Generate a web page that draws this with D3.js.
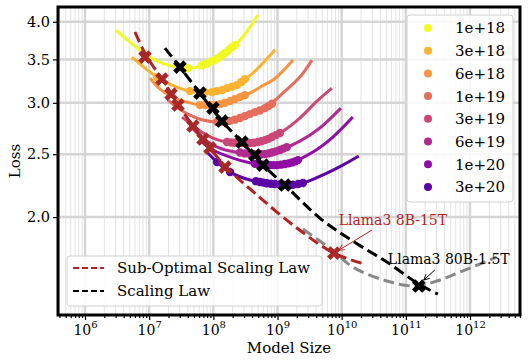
<!DOCTYPE html>
<html>
<head>
<meta charset="utf-8">
<script src="https://cdn.jsdelivr.net/npm/d3@7"></script>
<style>
  body { margin: 0; background: #fff; }
  text { font-family: "DejaVu Serif", serif; }
</style>
</head>
<body>
<svg></svg>
<script>
// compute budgets (legend) and their iso-FLOP curves: [model size, loss]
const budgets = ['1e+18', '3e+18', '6e+18', '1e+19', '3e+19', '6e+19', '1e+20', '3e+20']
const budgetColors = ['#f0f921', '#fdb32f', '#f89540', '#e66c5c', '#cc4778', '#b12a90', '#8f0da4', '#5c01a6']

const line1e18 = [[3.04e6, 3.884], [6.0e6, 3.669], [1.23e7, 3.491], [2.27e7, 3.417], [4.02e7, 3.393], [7.40e7, 3.429], [1.36e8, 3.554], [2.60e8, 3.748], [4.95e8, 4.097]]
const line3e18 = [[5.4e6, 3.528], [8.6e6, 3.393], [1.32e7, 3.287], [2.27e7, 3.195], [4.32e7, 3.127], [8.85e7, 3.105], [1.52e8, 3.150], [2.60e8, 3.217], [4.45e8, 3.357], [9.11e8, 3.617]]
const line6e18 = [[1.03e7, 3.275], [1.47e7, 3.150], [2.35e7, 3.061], [3.88e7, 3.007], [6.18e7, 2.976], [1.06e8, 2.976], [1.63e8, 3.007], [2.60e8, 3.061], [3.72e8, 3.105], [5.72e8, 3.184], [8.48e8, 3.252], [1.21e9, 3.357], [1.74e9, 3.491]]
const line1e19 = [[1.96e7, 3.029], [2.81e7, 2.944], [4.32e7, 2.872], [6.89e7, 2.822], [1.14e8, 2.802], [1.82e8, 2.812], [2.60e8, 2.842], [4.45e8, 2.903], [6.84e8, 2.955], [1.21e9, 3.105], [2.23e9, 3.287], [3.44e9, 3.491]]
const line3e19 = [[3.25e7, 2.852], [4.65e7, 2.773], [6.18e7, 2.715], [9.86e7, 2.647], [1.63e8, 2.610], [3.72e8, 2.601], [6.37e8, 2.628], [1.09e9, 2.695], [2.23e9, 2.842], [4.11e9, 3.018], [7.03e9, 3.161]]
const line6e19 = [[4.65e7, 2.744], [6.89e7, 2.647], [1.06e8, 2.573], [1.82e8, 2.528], [3.72e8, 2.501], [6.37e8, 2.501], [1.09e9, 2.537], [2.23e9, 2.619], [4.57e9, 2.744], [9.72e9, 2.944]]
const line1e20 = [[6.18e7, 2.628], [9.86e7, 2.537], [2.02e8, 2.466], [4.78e8, 2.414], [9.11e8, 2.405], [1.56e9, 2.422], [3.56e9, 2.519], [7.29e9, 2.657], [1.49e10, 2.852]]
const line3e20 = [[7.95e7, 2.519], [1.14e8, 2.431], [1.82e8, 2.346], [3.72e8, 2.281], [7.62e8, 2.249], [1.40e9, 2.241], [2.49e9, 2.257], [5.88e9, 2.338], [1.04e10, 2.405], [1.85e10, 2.484]]

// measured runs sitting on each curve
const dots1e18 = [[4.02e7, 3.393], [6.64e7, 3.429], [8.0e7, 3.45], [9.51e7, 3.479], [1.07e8, 3.497], [1.18e8, 3.516], [1.35e8, 3.55], [1.52e8, 3.579], [1.72e8, 3.615], [1.95e8, 3.656], [2.17e8, 3.683]]
const dots3e18 = [[1.32e7, 3.287], [4.32e7, 3.127], [7.40e7, 3.116], [9.5e7, 3.116], [1.14e8, 3.127], [1.38e8, 3.14], [1.63e8, 3.161], [1.95e8, 3.177], [2.33e8, 3.195], [2.7e8, 3.228], [3.10e8, 3.263]]
const dots6e18 = [[6.18e7, 2.976], [7.4e7, 2.976], [8.85e7, 2.976], [1.07e8, 2.978], [1.27e8, 2.986], [1.52e8, 3.0], [1.82e8, 3.018], [2.17e8, 3.04], [2.60e8, 3.061], [3.10e8, 3.083]]
const dots1e19 = [[1.14e8, 2.802], [1.33e8, 2.804], [1.52e8, 2.807], [1.82e8, 2.814], [2.17e8, 2.826], [2.6e8, 2.842], [3.10e8, 2.862], [3.7e8, 2.882], [4.45e8, 2.903], [5.3e8, 2.92], [6.37e8, 2.944], [7.2e8, 2.965], [8.19e8, 2.99]]
const dots3e19 = [[1.63e8, 2.610], [1.9e8, 2.606], [2.17e8, 2.604], [2.5e8, 2.602], [2.79e8, 2.601], [3.25e8, 2.601], [3.72e8, 2.601], [4.3e8, 2.604], [4.95e8, 2.610], [5.6e8, 2.618], [6.37e8, 2.628], [7.2e8, 2.64], [8.19e8, 2.657], [9.4e8, 2.675], [1.09e9, 2.695]]
const dots6e19 = [[2.60e8, 2.515], [3.1e8, 2.507], [3.72e8, 2.501], [4.3e8, 2.5], [4.95e8, 2.500], [5.6e8, 2.5], [6.37e8, 2.501], [7.2e8, 2.507], [8.19e8, 2.515], [9.4e8, 2.525], [1.09e9, 2.537], [1.23e9, 2.55], [1.40e9, 2.564]]
const dots1e20 = [[4.45e8, 2.416], [5.2e8, 2.411], [5.93e8, 2.408], [6.7e8, 2.406], [7.62e8, 2.405], [8.6e8, 2.405], [9.79e8, 2.405], [1.13e9, 2.409], [1.30e9, 2.414], [1.48e9, 2.42], [1.68e9, 2.427], [1.88e9, 2.437], [2.08e9, 2.448]]
const dots3e20 = [[1.14e8, 2.431], [1.82e8, 2.346], [4.6e8, 2.272], [5.32e8, 2.265], [6.0e8, 2.26], [6.84e8, 2.255], [7.9e8, 2.251], [9.11e8, 2.249], [1.09e9, 2.245], [1.3e9, 2.242], [1.52e9, 2.242], [1.74e9, 2.243], [2.1e9, 2.249], [2.49e9, 2.257]]

const isoLines = [line1e18, line3e18, line6e18, line1e19, line3e19, line6e19, line1e20, line3e20]
const isoDots = [dots1e18, dots3e18, dots6e18, dots1e19, dots3e19, dots6e19, dots1e20, dots3e20]

// optimal (black) and sub-optimal (red) points per budget
const optN = [3.02e7, 6.18e7, 9.86e7, 1.36e8, 2.79e8, 4.45e8, 5.93e8, 1.30e9]
const optLoss = [3.405, 3.105, 2.944, 2.812, 2.610, 2.492, 2.405, 2.241]
const subN = [8.6e6, 1.58e7, 2.19e7, 2.81e7, 4.81e7, 6.89e7, 8.85e7, 1.52e8]
const subLoss = [3.528, 3.263, 3.094, 2.976, 2.763, 2.638, 2.555, 2.388]

// fitted laws
const lawN = [1.76e7, 3.02e7, 6.18e7, 1.36e8, 2.79e8, 5.93e8, 1.30e9, 4.57e9, 1.49e10, 5.06e10, 1.59e11, 3.15e11]
const lawLoss = [3.643, 3.405, 3.105, 2.812, 2.610, 2.405, 2.241, 1.993, 1.837, 1.705, 1.577, 1.522]
const subLawN = [6.0e6, 8.91e6, 1.58e7, 2.81e7, 4.81e7, 8.85e7, 1.52e8, 4.78e8, 2.0e9, 7.56e9, 2.30e10]
const subLawLoss = [3.857, 3.554, 3.263, 2.986, 2.763, 2.555, 2.397, 2.163, 1.924, 1.760, 1.693]

// iso-FLOP of the Llama3 budget (grey)
const llamaN = [2.49e9, 4.57e9, 7.84e9, 1.49e10, 5.06e10, 1.38e11, 3.04e11, 6.93e11, 2.61e12]
const llamaLoss = [1.917, 1.837, 1.766, 1.675, 1.594, 1.566, 1.594, 1.645, 1.735]

const llama8B = [7.56e9, 1.760]
const llama80B = [1.59e11, 1.566]

const xMajor = [1e6, 1e7, 1e8, 1e9, 1e10, 1e11, 1e12]
const yTicks = [2.0, 2.5, 3.0, 3.5, 4.0]

const width = 529
const height = 364
const pLeft = 58, pRight = 520, pTop = 7, pBottom = 315
const red = '#b22222'

const svg = d3.select('svg')
  .attr('width', width)
  .attr('height', height)

const x = d3.scaleLog().domain([10 ** 5.579, 10 ** 12.779]).range([pLeft, pRight])
const y = d3.scaleLog().domain([1.413, 4.215]).range([pBottom, pTop])

const xMinor = []
for (let e = 5; e <= 12; e++) {
  for (let k = 2; k <= 9; k++) {
    const v = k * 10 ** e
    if (v > x.domain()[0] && v < x.domain()[1]) xMinor.push(v)
  }
}

const defs = svg.append('defs')
defs.append('clipPath').attr('id', 'clip')
  .append('rect').attr('x', pLeft).attr('y', pTop).attr('width', pRight - pLeft).attr('height', pBottom - pTop)

// grid
const grid = svg.append('g')
grid.selectAll('.minor').data(xMinor).enter().append('line')
  .attr('x1', d => x(d)).attr('x2', d => x(d)).attr('y1', pTop).attr('y2', pBottom)
  .attr('stroke', '#e3e3e3').attr('stroke-width', 1)
grid.selectAll('.major').data(xMajor).enter().append('line')
  .attr('x1', d => x(d)).attr('x2', d => x(d)).attr('y1', pTop).attr('y2', pBottom)
  .attr('stroke', '#d5d5d5').attr('stroke-width', 2.5)
grid.selectAll('.hy').data(yTicks).enter().append('line')
  .attr('x1', pLeft).attr('x2', pRight).attr('y1', d => y(d)).attr('y2', d => y(d))
  .attr('stroke', '#d5d5d5').attr('stroke-width', 2.5)

const plot = svg.append('g').attr('clip-path', 'url(#clip)')

const line = d3.line()
  .x(d => x(d[0]))
  .y(d => y(d[1]))
  .curve(d3.curveCatmullRom)

const zip = (a, b) => a.map((v, i) => [v, b[i]])

// iso-FLOP curves
plot.selectAll('.iso').data(isoLines).enter().append('path')
  .attr('d', line)
  .attr('fill', 'none')
  .attr('stroke', (d, i) => budgetColors[i])
  .attr('stroke-width', 3)

isoDots.forEach((pts, i) => {
  plot.append('g').selectAll('circle').data(pts).enter().append('circle')
    .attr('cx', d => x(d[0]))
    .attr('cy', d => y(d[1]))
    .attr('r', 4.2)
    .attr('fill', budgetColors[i])
})

// laws
plot.append('path').attr('d', line(zip(llamaN, llamaLoss)))
  .attr('fill', 'none').attr('stroke', '#888').attr('stroke-width', 3).attr('stroke-dasharray', '11,5')
plot.append('path').attr('d', line(zip(subLawN, subLawLoss)))
  .attr('fill', 'none').attr('stroke', red).attr('stroke-width', 3).attr('stroke-dasharray', '11,5')
plot.append('path').attr('d', line(zip(lawN, lawLoss)))
  .attr('fill', 'none').attr('stroke', '#000').attr('stroke-width', 3).attr('stroke-dasharray', '11,5')

const xMark = d3.symbol(d3.symbolCross).size(115)

plot.selectAll('.sub').data(zip(subN, subLoss).concat([llama8B])).enter().append('path')
  .attr('d', xMark)
  .attr('transform', d => `translate(${x(d[0])},${y(d[1])}) rotate(45)`)
  .attr('fill', '#a82828')

plot.selectAll('.opt').data(zip(optN, optLoss).concat([llama80B])).enter().append('path')
  .attr('d', xMark)
  .attr('transform', d => `translate(${x(d[0])},${y(d[1])}) rotate(45)`)
  .attr('fill', '#000')

// annotations
function arrowHead(id, color) {
  defs.append('marker').attr('id', id)
    .attr('viewBox', '0 0 10 10').attr('refX', 9).attr('refY', 5)
    .attr('markerWidth', 7).attr('markerHeight', 7).attr('orient', 'auto')
    .attr('markerUnits', 'userSpaceOnUse')
    .append('path').attr('d', 'M1,1 L9,5 L1,9')
    .attr('fill', 'none').attr('stroke', color).attr('stroke-width', 1.3)
}
arrowHead('arrRed', red)
arrowHead('arrBlack', '#000')

const p8 = [x(llama8B[0]), y(llama8B[1])]
svg.append('line')
  .attr('x1', p8[0] + 38).attr('y1', p8[1] - 23)
  .attr('x2', p8[0] + 5).attr('y2', p8[1] - 3)
  .attr('stroke', red).attr('stroke-width', 1)
  .attr('marker-end', 'url(#arrRed)')
svg.append('text')
  .attr('x', p8[0] + 59).attr('y', p8[1] - 28)
  .attr('text-anchor', 'middle')
  .attr('font-size', 14)
  .attr('fill', red)
  .text('Llama3 8B-15T')

const p80 = [x(llama80B[0]), y(llama80B[1])]
svg.append('line')
  .attr('x1', p80[0] + 16).attr('y1', p80[1] - 16)
  .attr('x2', p80[0] + 5).attr('y2', p80[1] - 6)
  .attr('stroke', '#000').attr('stroke-width', 1)
  .attr('marker-end', 'url(#arrBlack)')
svg.append('text')
  .attr('x', p80[0] + 30).attr('y', p80[1] - 22)
  .attr('text-anchor', 'middle')
  .attr('font-size', 14)
  .attr('fill', '#000')
  .text('Llama3 80B-1.5T')

// axes
const xAxis = svg.append('g')
  .attr('transform', `translate(0,${pBottom})`)
  .call(d3.axisBottom(x).tickValues(xMajor).tickSize(5).tickFormat(''))
xAxis.append('g')
  .call(d3.axisBottom(x).tickValues(xMinor).tickSize(3).tickFormat(''))
xAxis.selectAll('.domain').remove()
xAxis.selectAll('line').attr('stroke-width', 1.2)
xAxis.selectAll('.tick text')
  .attr('y', 20).attr('dy', null)
  .attr('font-size', 14)
  .attr('font-family', 'DejaVu Serif')
  .attr('fill', '#000')
  .each(function (d) {
    if (!xMajor.includes(d)) return
    const t = d3.select(this)
    t.append('tspan').text('10')
    t.append('tspan').attr('dy', -7).attr('font-size', 10).text(Math.round(Math.log10(d)))
  })

const yAxis = svg.append('g')
  .attr('transform', `translate(${pLeft},0)`)
  .call(d3.axisLeft(y).tickValues(yTicks).tickSize(5).tickFormat(d3.format('.1f')))
yAxis.select('.domain').remove()
yAxis.selectAll('line').attr('stroke-width', 1.2)
yAxis.selectAll('text')
  .attr('font-size', 14.5)
  .attr('font-family', 'DejaVu Serif')
  .attr('fill', '#000')

svg.append('rect')
  .attr('x', pLeft).attr('y', pTop)
  .attr('width', pRight - pLeft).attr('height', pBottom - pTop)
  .attr('fill', 'none').attr('stroke', '#000').attr('stroke-width', 3)

svg.append('text')
  .attr('x', (pLeft + pRight) / 2).attr('y', 353)
  .attr('text-anchor', 'middle').attr('font-size', 15)
  .text('Model Size')
svg.append('text')
  .attr('transform', `translate(20,${(pTop + pBottom) / 2}) rotate(-90)`)
  .attr('text-anchor', 'middle').attr('font-size', 15)
  .text('Loss')

// legend: budgets
const lg = svg.append('g')
lg.append('rect')
  .attr('x', 407).attr('y', 15).attr('width', 106).attr('height', 187)
  .attr('rx', 3)
  .attr('fill', '#fff').attr('fill-opacity', 0.85)
  .attr('stroke', '#d0d0d0')
const rows = lg.selectAll('.row').data(budgets).enter().append('g')
  .attr('transform', (d, i) => `translate(0,${28 + i * 22.7})`)
rows.append('circle').attr('cx', 428).attr('cy', 0).attr('r', 4)
  .attr('fill', (d, i) => budgetColors[i])
rows.append('text').attr('x', 455).attr('y', 0).attr('dy', '0.36em')
  .attr('font-size', 15)
  .text(d => d)

// legend: laws
const lawLegend = [['Sub-Optimal Scaling Law', red], ['Scaling Law', '#000']]
const lg2 = svg.append('g')
lg2.append('rect')
  .attr('x', 67).attr('y', 256).attr('width', 255).attr('height', 50)
  .attr('rx', 3)
  .attr('fill', '#fff').attr('fill-opacity', 0.85)
  .attr('stroke', '#d0d0d0')
const rows2 = lg2.selectAll('.row').data(lawLegend).enter().append('g')
  .attr('transform', (d, i) => `translate(0,${268 + i * 23})`)
rows2.append('line').attr('x1', 73).attr('x2', 104).attr('y1', 0).attr('y2', 0)
  .attr('stroke', d => d[1]).attr('stroke-width', 2).attr('stroke-dasharray', '6,3')
rows2.append('text').attr('x', 117).attr('y', 0).attr('dy', '0.36em')
  .attr('font-size', 15)
  .text(d => d[0])
</script>
</body>
</html>
